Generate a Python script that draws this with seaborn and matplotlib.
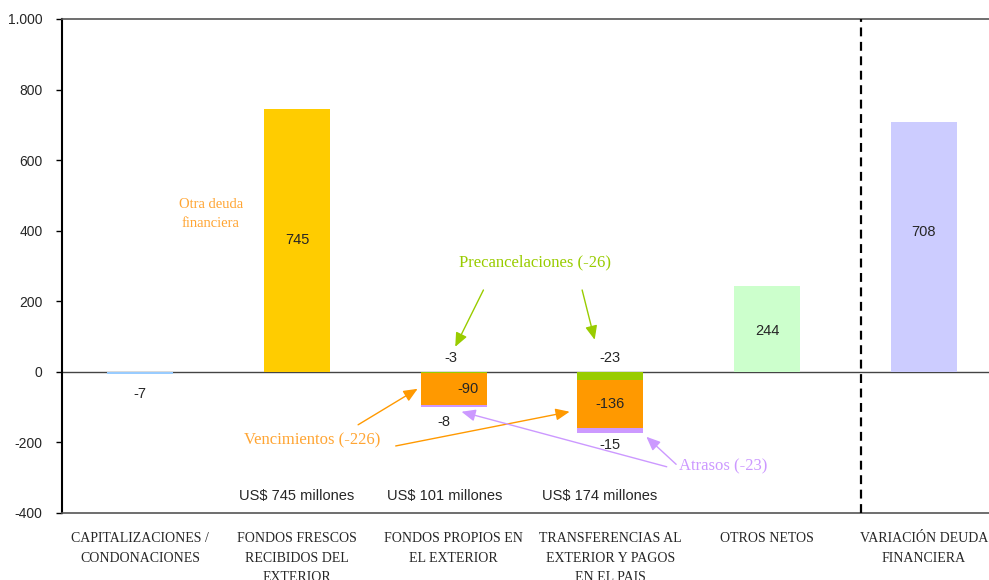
import matplotlib
matplotlib.use("Agg")
import matplotlib.pyplot as plt
import seaborn as sns
import pandas as pd
import numpy as np

# ---- data ----
categories = ["CAPITALIZACIONES /\nCONDONACIONES",
              "FONDOS FRESCOS\nRECIBIDOS DEL\nEXTERIOR",
              "FONDOS PROPIOS EN\nEL EXTERIOR",
              "TRANSFERENCIAS AL\nEXTERIOR Y PAGOS\nEN EL PAIS",
              "OTROS NETOS",
              "VARIACIÓN DEUDA\nFINANCIERA"]
simple_values = [-7, 745, 0, 0, 244, 708]
simple_colors = ["#99CCFF", "#FFCC00", "#FFFFFF", "#FFFFFF", "#CCFFCC", "#CCCCFF"]
precancelaciones = [0, 0, -3, -23, 0, 0]
vencimientos = [0, 0, -90, -136, 0, 0]
atrasos = [0, 0, -8, -15, 0, 0]
millones_labels = ["", "US$ 745 millones", "US$ 101 millones", "US$ 174 millones", "", ""]
y_ticks = [-400, -200, 0, 200, 400, 600, 800, 1000]
y_ticklabels = ["-400", "-200", "0", "200", "400", "600", "800", "1.000"]

sns.set_theme(style="white")
plt.rcParams["font.family"] = ["Liberation Sans", "DejaVu Sans"]

fig = plt.figure(figsize=(9.89, 5.80), dpi=100)
ax = fig.add_axes([62/989, 1 - 513/580, (1002 - 62)/989, (513 - 19)/580])

W = 0.42
bar_kw = dict(width=W, saturation=1, edgecolor="none", linewidth=0, zorder=2)
df = pd.DataFrame({"cat": categories, "val": simple_values})
sns.barplot(data=df, x="cat", y="val", hue="cat", palette=simple_colors,
            legend=False, ax=ax, **bar_kw)

prec = np.array(precancelaciones)
venc = np.array(vencimientos)
atr = np.array(atrasos)
layers = [(prec + venc + atr, "#CC99FF"), (prec + venc, "#FF9900"), (prec, "#99CC00")]
for vals, col in layers:
    d = pd.DataFrame({"cat": categories, "val": vals})
    sns.barplot(data=d, x="cat", y="val", color=col, ax=ax, **bar_kw)

# bar value labels
lab_fs = 10.5
ax.text(0, simple_values[0] - 55, f"{simple_values[0]}", ha="center", va="center", fontsize=lab_fs)
ax.text(1, simple_values[1] * 0.5, f"{simple_values[1]}", ha="center", va="center", fontsize=lab_fs)
ax.text(4, simple_values[4] * 0.5 - 5, f"{simple_values[4]}", ha="center", va="center", fontsize=lab_fs)
ax.text(5, simple_values[5] * 0.56, f"{simple_values[5]}", ha="center", va="center", fontsize=lab_fs)
# stacked
ax.text(1.98, 40, f"{precancelaciones[2]}", ha="center", va="center", fontsize=lab_fs)
ax.text(2.09, precancelaciones[2] + vencimientos[2] * 0.5, f"{vencimientos[2]}", ha="center", va="center", fontsize=lab_fs)
ax.text(1.94, precancelaciones[2] + vencimientos[2] + atrasos[2] - 40, f"{atrasos[2]}", ha="center", va="center", fontsize=lab_fs)
ax.text(3.0, 40, f"{precancelaciones[3]}", ha="center", va="center", fontsize=lab_fs)
ax.text(3.0, precancelaciones[3] + vencimientos[3] * 0.5, f"{vencimientos[3]}", ha="center", va="center", fontsize=lab_fs)
ax.text(3.0, precancelaciones[3] + vencimientos[3] + atrasos[3] - 33, f"{atrasos[3]}", ha="center", va="center", fontsize=lab_fs)

millones_x = [0, 1.0, 1.94, 2.93, 4, 5]
for i, t in enumerate(millones_labels):
    if t:
        ax.text(millones_x[i], -352, t, ha="center", va="center", fontsize=10.5)

serif = ["Liberation Serif", "DejaVu Serif"]
# annotations
ax.text(0.45, 448, "Otra deuda\nfinanciera", ha="center", va="center", fontsize=10.5,
        color="#FFA533", family=serif, linespacing=1.55)

green = "#99CC00"
ax.text(2.52, 309, f"Precancelaciones ({sum(precancelaciones)})", ha="center", va="center",
        fontsize=12, color=green, family=serif)
ap = dict(arrowstyle="-|>,head_length=0.7,head_width=0.3", lw=1, shrinkA=0, shrinkB=0)
ax.annotate("", xy=(2.01, 71), xytext=(2.19, 232), arrowprops=dict(ap, color=green))
ax.annotate("", xy=(2.90, 91), xytext=(2.82, 232), arrowprops=dict(ap, color=green))

orange = "#FF9900"
ax.text(1.10, -193, f"Vencimientos ({sum(vencimientos)})", ha="center", va="center",
        fontsize=12, color="#FFA533", family=serif)
ax.annotate("", xy=(1.77, -48), xytext=(1.39, -150), arrowprops=dict(ap, color=orange))
ax.annotate("", xy=(2.74, -113), xytext=(1.63, -210), arrowprops=dict(ap, color=orange))

purple = "#CC99FF"
ax.text(3.72, -269, f"Atrasos ({sum(atrasos)})", ha="center", va="center",
        fontsize=12, color=purple, family=serif)
ax.annotate("", xy=(2.05, -113), xytext=(3.36, -269), arrowprops=dict(ap, color=purple))
ax.annotate("", xy=(3.23, -184), xytext=(3.42, -262), arrowprops=dict(ap, color=purple))

# reference lines
ax.axhline(0, color="#444444", lw=1, zorder=1)
ax.axvline(4.6, color="black", lw=1.6, ls=(0, (4, 2.5)), zorder=3)

ax.set_xlim(-0.5, 5.5)
ax.set_ylim(-400, 1000)
ax.set_yticks(y_ticks)
ax.set_yticklabels(y_ticklabels, fontsize=10)
ax.set_xticks(range(len(categories)))
ax.set_xticklabels(categories, fontsize=10, family=serif, linespacing=1.62, va="top")
ax.set_xlabel("")
ax.set_ylabel("")
ax.tick_params(axis="y", which="both", left=True, length=4, width=1, color="black", pad=10)
ax.tick_params(axis="x", bottom=False, pad=8)

for s in ["top", "bottom"]:
    ax.spines[s].set_color("#555555")
    ax.spines[s].set_linewidth(1.2)
ax.spines["left"].set_color("black")
ax.spines["left"].set_linewidth(1.5)
ax.spines["right"].set_visible(False)

fig.savefig("out.png", dpi=100, facecolor="white")
